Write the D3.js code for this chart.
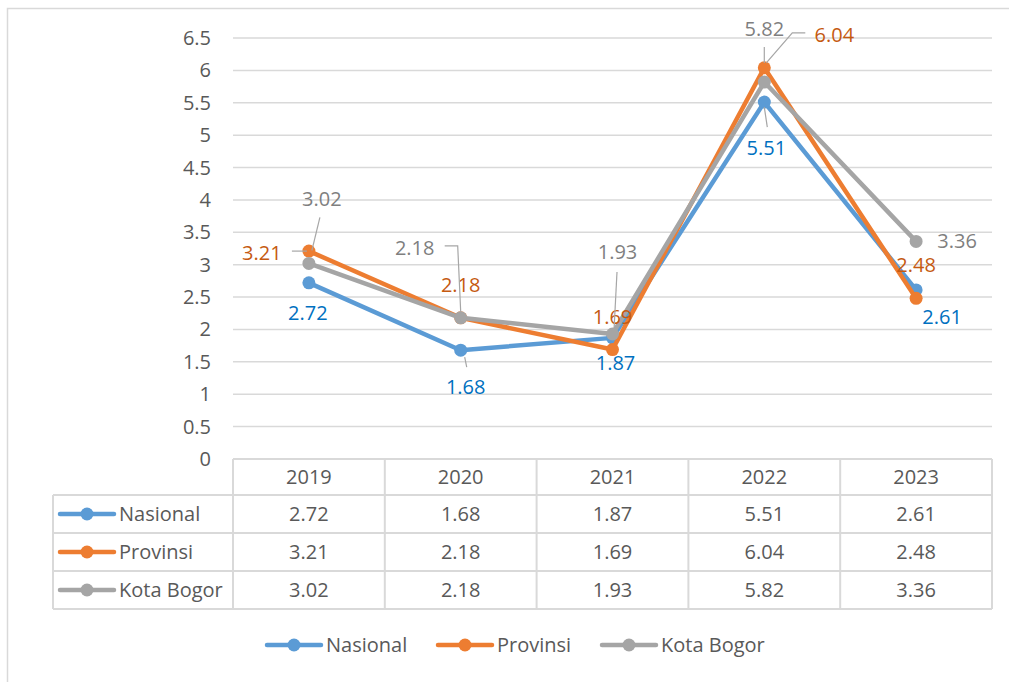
<!DOCTYPE html>
<html><head><meta charset="utf-8">
<script src="https://cdn.jsdelivr.net/npm/d3@7"></script>
<style>body{margin:0;background:#fff}svg{display:block}text{font-family:"Open Sans","Noto Sans",sans-serif}</style>
</head><body>
<svg id="c" width="1009" height="682"></svg>
<script>
const years = ["2019","2020","2021","2022","2023"];
const seriesNames = ["Nasional","Provinsi","Kota Bogor"];
const nasional = [2.72,1.68,1.87,5.51,2.61];
const provinsi = [3.21,2.18,1.69,6.04,2.48];
const kotaBogor = [3.02,2.18,1.93,5.82,3.36];
const yTicks = [0,0.5,1,1.5,2,2.5,3,3.5,4,4.5,5,5.5,6,6.5];
const lineColors = ["#5B9BD5","#ED7D31","#A5A5A5"];
const labelColors = ["#0070C0","#C55A11","#7F7F7F"];
// label offsets (dx,dy from point) and leader polylines (relative to point)
const labelOffsets = [
  [[-1,30],[5,37],[3,25],[2,46],[26,27]],
  [[-47,2],[0,-33],[0,-33],[70,-33],[0,-33]],
  [[13,-64],[-46,-70],[5,-82],[0,-53],[41,0]]
];
const leaders = [
  [null,[[4,7],[6,17]],null,[[0,5],[3,25]],null],
  [[[-17,0],[-2,0]],null,null,[[41,-35],[28,-35],[2,-5]],null],
  [[[11,-46],[3,-13]],[[-16,-72],[-3,-72],[0,-6]],[[4.5,-62],[1.5,-4]],[[0,-35],[0,-19]],null]
];
const values = [nasional, provinsi, kotaBogor];

const svg = d3.select("#c");
const L = 233, R = 992, T = 38, B = 459;
const x = d3.scaleBand().domain(years).range([L,R]);
const y = d3.scaleLinear().domain([0,6.5]).range([B,T]);
const grid = "#D9D9D9", txt = "#595959", fs = 20;

// outer border
svg.append("rect").attr("x",7.5).attr("y",8.5).attr("width",1100).attr("height",1000)
  .attr("fill","none").attr("stroke",grid).attr("stroke-width",1.5);

// gridlines
svg.append("g").selectAll("line").data(yTicks).join("line")
  .attr("x1",L).attr("x2",R).attr("y1",d=>y(d)).attr("y2",d=>y(d))
  .attr("stroke",grid).attr("stroke-width",1.5);
svg.append("g").selectAll("text").data(yTicks).join("text")
  .attr("x",211).attr("y",d=>y(d)).attr("dy","0.35em").attr("text-anchor","end")
  .attr("fill",txt).attr("font-size",fs).text(d=>d);

// data table
const rowH = [36,38,38,38];
const rowY = [B]; rowH.forEach((h,i)=>rowY.push(rowY[i]+h));
const tg = svg.append("g").attr("stroke",grid).attr("stroke-width",2).attr("fill","none");
tg.append("line").attr("x1",L).attr("x2",R).attr("y1",rowY[0]).attr("y2",rowY[0]);
for (let i=1;i<rowY.length;i++) tg.append("line").attr("x1",53).attr("x2",R).attr("y1",rowY[i]).attr("y2",rowY[i]);
years.forEach((yr,i)=>tg.append("line").attr("x1",x(yr)).attr("x2",x(yr)).attr("y1",rowY[0]).attr("y2",rowY[4]));
tg.append("line").attr("x1",R).attr("x2",R).attr("y1",rowY[0]).attr("y2",rowY[4]);
tg.append("line").attr("x1",53).attr("x2",53).attr("y1",rowY[1]).attr("y2",rowY[4]);
svg.append("g").selectAll("text").data(years).join("text")
  .attr("x",d=>x(d)+x.bandwidth()/2).attr("y",(rowY[0]+rowY[1])/2).attr("dy","0.35em")
  .attr("text-anchor","middle").attr("fill",txt).attr("font-size",fs).text(d=>d);

function legendKey(g,cx,cy,color){
  g.append("line").attr("x1",cx-27).attr("x2",cx+27).attr("y1",cy).attr("y2",cy)
    .attr("stroke",color).attr("stroke-width",4.5).attr("stroke-linecap","round");
  g.append("circle").attr("cx",cx).attr("cy",cy).attr("r",6.5).attr("fill",color);
}
values.forEach((vals,s)=>{
  const cy = (rowY[s+1]+rowY[s+2])/2;
  const g = svg.append("g");
  legendKey(g,87,cy,lineColors[s]);
  g.append("text").attr("x",119).attr("y",cy).attr("dy","0.35em").attr("fill",txt).attr("font-size",fs).text(seriesNames[s]);
  g.selectAll("text.v").data(vals).join("text").attr("class","v")
    .attr("x",(d,i)=>x(years[i])+x.bandwidth()/2).attr("y",cy).attr("dy","0.35em")
    .attr("text-anchor","middle").attr("fill",txt).attr("font-size",fs).text(d=>d.toFixed(2));
});

// lines
const line = d3.line().x((d,i)=>x(years[i])+x.bandwidth()/2).y(d=>y(d));
values.forEach((vals,s)=>{
  const g = svg.append("g");
  g.append("path").datum(vals).attr("d",line).attr("fill","none")
    .attr("stroke",lineColors[s]).attr("stroke-width",4.5).attr("stroke-linejoin","round").attr("stroke-linecap","round");
  g.selectAll("circle").data(vals).join("circle")
    .attr("cx",(d,i)=>x(years[i])+x.bandwidth()/2).attr("cy",d=>y(d)).attr("r",6.5).attr("fill",lineColors[s]);
});

// leader lines and labels
values.forEach((vals,s)=>{
  vals.forEach((v,i)=>{
    const px = x(years[i])+x.bandwidth()/2, py = y(v);
    const ld = leaders[s][i];
    if (ld) svg.append("polyline").attr("points",ld.map(p=>[px+p[0],py+p[1]].join(",")).join(" "))
      .attr("fill","none").attr("stroke","#A6A6A6").attr("stroke-width",1.2);
    const o = labelOffsets[s][i];
    svg.append("text").attr("x",px+o[0]).attr("y",py+o[1]).attr("dy","0.35em").attr("text-anchor","middle")
      .attr("fill",labelColors[s]).attr("font-size",fs).text(v.toFixed(2));
  });
});

// legend
const legX = [294,465,629];
seriesNames.forEach((n,s)=>{
  const g = svg.append("g");
  legendKey(g,legX[s],645,lineColors[s]);
  g.append("text").attr("x",legX[s]+32).attr("y",645).attr("dy","0.35em").attr("fill",txt).attr("font-size",fs).text(n);
});
</script>
</body></html>
